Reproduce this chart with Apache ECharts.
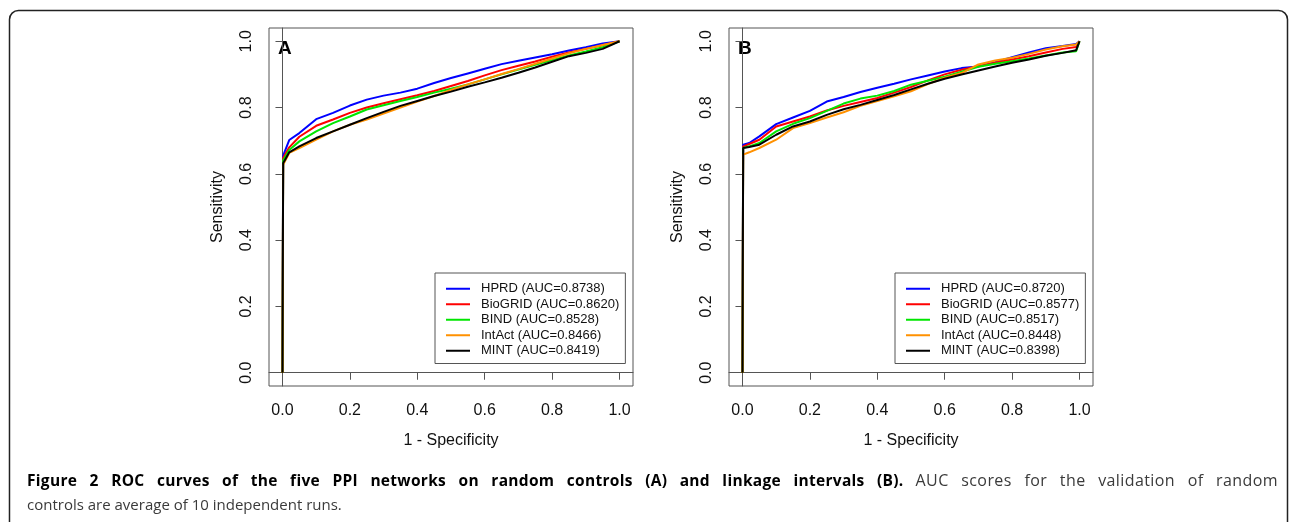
<!DOCTYPE html>
<html>
<head>
<meta charset="utf-8">
<script src="https://cdn.jsdelivr.net/npm/echarts@6/dist/echarts.min.js"></script>
<style>
  html, body { margin: 0; padding: 0; background: #fff; }
  #wrap { position: relative; width: 1290px; height: 522px; overflow: hidden; }
  #chart { position: absolute; left: 0; top: 0; width: 1290px; height: 522px; }
  .cap { position: absolute; left: 27px; width: 1251px; font-family: "Open Sans", sans-serif; font-size: 15px; line-height: 23px; color: #3a3a3a; white-space: nowrap; }
  .cap b { color: #000; font-size: 15.5px; letter-spacing: 0.3px; }
  .cap .wide { font-size: 16px; letter-spacing: 0.4px; }
  #cap1 { top: 469px; text-align: justify; text-align-last: justify; white-space: normal; }
  #cap2 { top: 493px; }
</style>
</head>
<body>
<div id="wrap">
  <div id="chart"></div>
  <div class="cap" id="cap1"><b>Figure 2 ROC curves of the five PPI networks on random controls (A) and linkage intervals (B).</b> <span class="wide">AUC scores for the validation of random</span></div>
  <div class="cap" id="cap2">controls are average of 10 independent runs.</div>
</div>
<script>
// 1 - specificity sample points
const fprA = [0, 0.002, 0.02, 0.05, 0.1, 0.15, 0.2, 0.25, 0.3, 0.35, 0.4, 0.45, 0.5, 0.55, 0.6, 0.65, 0.7, 0.75, 0.8, 0.85, 0.9, 0.95, 1];
const fprB = [0, 0.002, 0.02, 0.05, 0.1, 0.15, 0.2, 0.25, 0.3, 0.35, 0.4, 0.45, 0.5, 0.55, 0.6, 0.65, 0.7, 0.75, 0.8, 0.85, 0.9, 0.95, 0.99, 1];

const networks = ["HPRD", "BioGRID", "BIND", "IntAct", "MINT"];
const colors = ["#0000ff", "#ff0000", "#00e600", "#ff9100", "#000000"];
const aucA = ["0.8738", "0.8620", "0.8528", "0.8466", "0.8419"];
const aucB = ["0.8720", "0.8577", "0.8517", "0.8448", "0.8398"];

// sensitivity, panel A (random controls)
const hprdA    = [0, 0.655, 0.702, 0.723, 0.765, 0.784, 0.806, 0.824, 0.836, 0.845, 0.857, 0.874, 0.889, 0.903, 0.917, 0.931, 0.941, 0.951, 0.961, 0.972, 0.982, 0.993, 1];
const biogridA = [0, 0.648, 0.680, 0.712, 0.745, 0.764, 0.784, 0.800, 0.813, 0.825, 0.837, 0.850, 0.865, 0.880, 0.897, 0.913, 0.926, 0.939, 0.953, 0.966, 0.977, 0.988, 1];
const bindA    = [0, 0.640, 0.672, 0.698, 0.728, 0.753, 0.773, 0.794, 0.807, 0.820, 0.832, 0.845, 0.857, 0.870, 0.885, 0.900, 0.915, 0.929, 0.943, 0.957, 0.969, 0.982, 1];
const intactA  = [0, 0.627, 0.663, 0.678, 0.703, 0.728, 0.748, 0.764, 0.782, 0.800, 0.818, 0.835, 0.853, 0.870, 0.885, 0.901, 0.916, 0.932, 0.948, 0.964, 0.977, 0.989, 1];
const mintA    = [0, 0.632, 0.665, 0.683, 0.708, 0.728, 0.748, 0.768, 0.787, 0.805, 0.820, 0.835, 0.848, 0.863, 0.876, 0.890, 0.905, 0.921, 0.938, 0.955, 0.965, 0.977, 1];

// sensitivity, panel B (linkage intervals)
const hprdB    = [0, 0.688, 0.693, 0.713, 0.750, 0.770, 0.790, 0.818, 0.832, 0.847, 0.860, 0.872, 0.885, 0.897, 0.909, 0.919, 0.924, 0.937, 0.952, 0.966, 0.979, 0.986, 0.992, 1];
const biogridB = [0, 0.683, 0.690, 0.703, 0.743, 0.758, 0.773, 0.791, 0.805, 0.817, 0.829, 0.845, 0.862, 0.882, 0.900, 0.914, 0.925, 0.935, 0.945, 0.955, 0.966, 0.977, 0.983, 1];
const bindB    = [0, 0.678, 0.683, 0.693, 0.728, 0.751, 0.768, 0.790, 0.812, 0.827, 0.836, 0.850, 0.869, 0.881, 0.893, 0.908, 0.923, 0.932, 0.940, 0.948, 0.957, 0.966, 0.970, 1];
const intactB  = [0, 0.658, 0.665, 0.678, 0.703, 0.738, 0.753, 0.770, 0.786, 0.805, 0.820, 0.834, 0.849, 0.871, 0.890, 0.904, 0.930, 0.942, 0.950, 0.962, 0.975, 0.985, 0.990, 1];
const mintB    = [0, 0.678, 0.681, 0.688, 0.718, 0.743, 0.758, 0.778, 0.795, 0.808, 0.823, 0.838, 0.855, 0.872, 0.887, 0.900, 0.912, 0.924, 0.935, 0.945, 0.956, 0.965, 0.973, 1];

const tickVals = [0, 0.2, 0.4, 0.6, 0.8, 1.0];

const sensA = [hprdA, biogridA, bindA, intactA, mintA];
const sensB = [hprdB, biogridB, bindB, intactB, mintB];

const FONT = "Liberation Sans";
const AX = "#555";

function makeX(gridIndex) {
  return {
    type: "value", gridIndex, min: -0.04, max: 1.04,
    axisLine: { show: true, lineStyle: { color: AX, width: 1 } },
    axisTick: { show: true, length: 7, customValues: tickVals, lineStyle: { color: AX } },
    axisLabel: { customValues: tickVals, formatter: v => v.toFixed(1), fontSize: 16, fontFamily: FONT, color: "#111", margin: 17 },
    splitLine: { show: false },
    name: "1 - Specificity", nameLocation: "middle", nameGap: 47,
    nameTextStyle: { fontSize: 16, fontFamily: FONT, color: "#111" }
  };
}
function makeY(gridIndex) {
  return {
    type: "value", gridIndex, min: -0.04, max: 1.04,
    axisLine: { show: true, lineStyle: { color: AX, width: 1 } },
    axisTick: { show: true, length: 7, customValues: tickVals, lineStyle: { color: AX } },
    axisLabel: { customValues: tickVals, formatter: v => v.toFixed(1), rotate: 90, fontSize: 16, fontFamily: FONT, color: "#111", margin: 14 },
    splitLine: { show: false },
    name: "Sensitivity", nameLocation: "middle", nameGap: 43,
    nameTextStyle: { fontSize: 16, fontFamily: FONT, color: "#111" }
  };
}

const series = [];
const legendA = [], legendB = [];
networks.forEach((n, i) => {
  const nameA = n + " (AUC=" + aucA[i] + ")";
  const nameB = n + " (AUC=" + aucB[i] + ")";
  legendA.push(nameA);
  legendB.push(nameB);
  series.push({
    name: nameA, type: "line", xAxisIndex: 0, yAxisIndex: 0, color: colors[i],
    showSymbol: false, lineStyle: { width: 2, color: colors[i] },
    data: fprA.map((x, k) => [x, sensA[i][k]])
  });
  series.push({
    name: nameB, type: "line", xAxisIndex: 1, yAxisIndex: 1, color: colors[i],
    showSymbol: false, lineStyle: { width: 2, color: colors[i] },
    data: fprB.map((x, k) => [x, sensB[i][k]])
  });
});

function makeLegend(data, left) {
  return {
    data, left, top: 273, orient: "vertical", selectedMode: false,
    icon: "rect", itemWidth: 24, itemHeight: 2, itemGap: 0,
    borderColor: AX, borderWidth: 1, padding: [8, 6, 5, 11],
    textStyle: { fontSize: 13, fontFamily: FONT, color: "#111", lineHeight: 15.5, padding: [0, 0, 0, 6] }
  };
}

const chart = echarts.init(document.getElementById("chart"));
chart.setOption({
  animation: false,
  grid: [
    { left: 269, top: 28, width: 364, height: 358, show: true, borderColor: AX, borderWidth: 1 },
    { left: 729, top: 28, width: 364, height: 358, show: true, borderColor: AX, borderWidth: 1 }
  ],
  xAxis: [makeX(0), makeX(1)],
  yAxis: [makeY(0), makeY(1)],
  legend: [makeLegend(legendA, 435), makeLegend(legendB, 895)],
  graphic: [
    { type: "rect", shape: { x: 9.5, y: 10.5, width: 1278, height: 600, r: 9 }, style: { fill: "none", stroke: "#222", lineWidth: 1.5 }, silent: true },
    { type: "text", x: 278, y: 49, style: { text: "A", font: "bold 19px " + FONT, fill: "#000", verticalAlign: "middle" } },
    { type: "text", x: 738, y: 49, style: { text: "B", font: "bold 19px " + FONT, fill: "#000", verticalAlign: "middle" } }
  ],
  series
});
</script>
</body>
</html>
